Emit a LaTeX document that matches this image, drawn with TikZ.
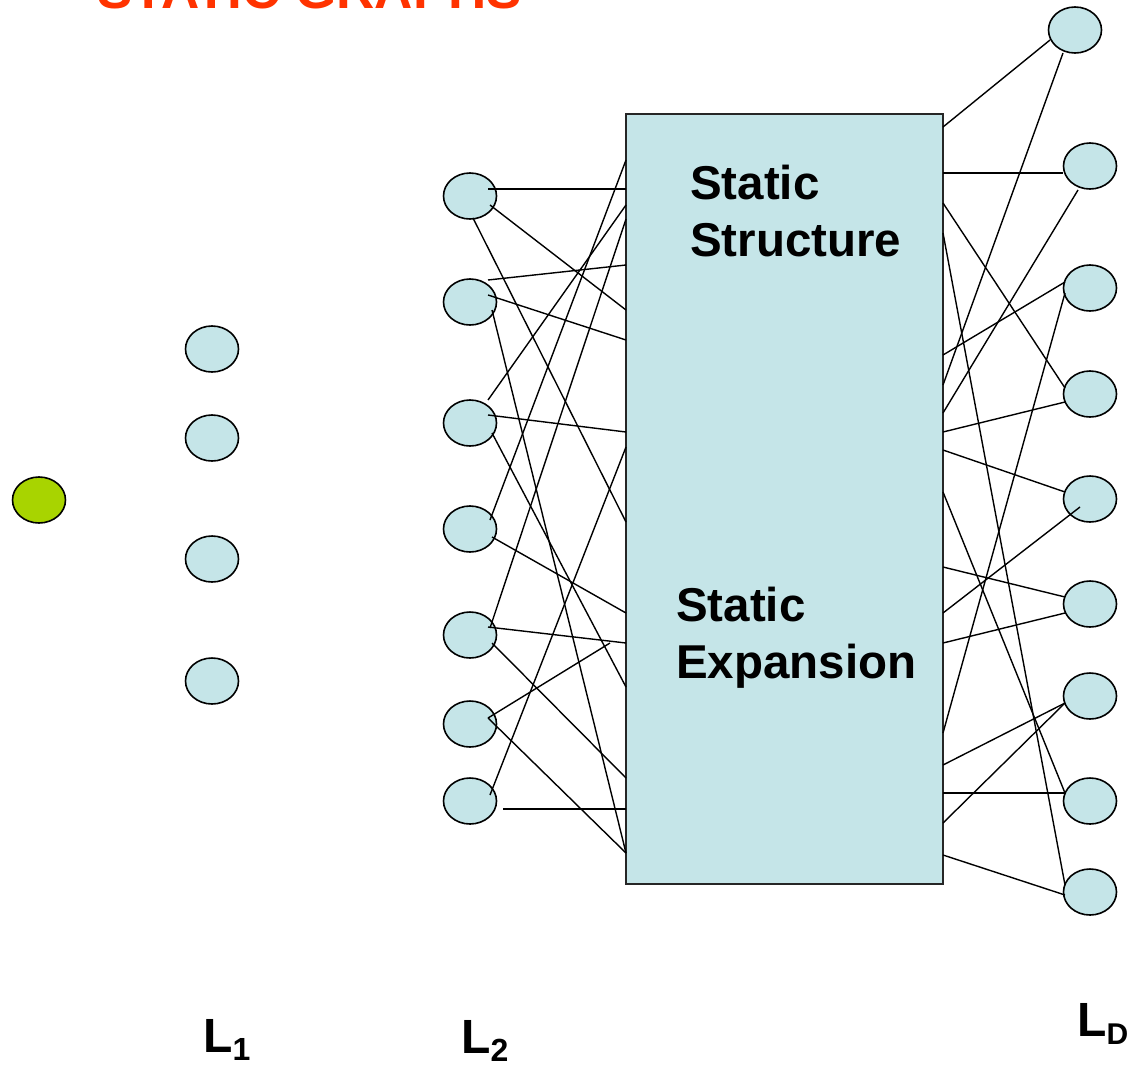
\documentclass[tikz,border=0pt]{standalone}
\usepackage{fontspec}
\setmainfont{Liberation Sans}
\usepackage{tikz}
\usetikzlibrary{
	calc,
	positioning,
	shapes.geometric
}
\definecolor{vertexblue}{HTML}{C5E5E8}
\definecolor{seedgreen}{HTML}{A8D400}
\definecolor{titlered}{HTML}{FF3300}
\tikzset{
	vertex/.style={
		ellipse, draw=black, line width=1.6pt, fill=vertexblue,
		minimum width=53pt, minimum height=46pt, inner sep=0pt
	},
	seed/.style={
		vertex, fill=seedgreen
	},
	block/.style={
		draw=black!85, line width=1.8pt, fill=vertexblue,
		minimum width=317pt, minimum height=770pt,
		inner sep=0pt, outer sep=0pt
	},
	every edge/.append style={
		line width=1.4pt
	},
	layer/.style={
		font=\fontsize{48}{50}\selectfont\bfseries,
		inner sep=0pt, anchor=base west
	},
	blocktext/.style={
		font=\fontsize{47.5}{57}\selectfont\bfseries,
		align=left, inner sep=0pt, anchor=north west
	}
}

\begin{document}
\begin{tikzpicture}[x=1pt,y=-1pt]
	\useasboundingbox (0,0) rectangle (1130,1066);
	% title, cut off at the top edge
	\node [anchor=base west, inner sep=0pt, text=titlered,
		font=\fontsize{53}{60}\selectfont\bfseries] (title) at (97,8) {STATIC GRAPHS};
	\draw
		node [seed]   (a0) at (39,500)  {}
		node [vertex] (a1) at (212,349) {}
		node [vertex] (a2) at (212,438) {}
		node [vertex] (a3) at (212,559) {}
		node [vertex] (a4) at (212,681) {}

		node [vertex] (b1) at (470,196) {}
		node [vertex] (b2) at (470,302) {}
		node [vertex] (b3) at (470,423) {}
		node [vertex] (b4) at (470,529) {}
		node [vertex] (b5) at (470,635) {}
		node [vertex] (b6) at (470,724) {}
		node [vertex] (b7) at (470,801) {}

		node [block]  (box) at (784.5,499) {}

		node [vertex] (c1) at (1075,30)  {}
		node [vertex] (c2) at (1090,166) {}
		node [vertex] (c3) at (1090,288) {}
		node [vertex] (c4) at (1090,394) {}
		node [vertex] (c5) at (1090,499) {}
		node [vertex] (c6) at (1090,604) {}
		node [vertex] (c7) at (1090,696) {}
		node [vertex] (c8) at (1090,801) {}
		node [vertex] (c9) at (1090,892) {}

		% second layer into the block
		($(b1)+(18,-7)$)  edge ($(box.north west)+(0,75)$)
		($(b1)+(20,9)$)   edge ($(box.north west)+(0,196)$)
		($(b1)+(3,22)$)   edge ($(box.north west)+(0,408)$)
		($(b2)+(18,-22)$) edge ($(box.north west)+(0,151)$)
		($(b2)+(18,-7)$)  edge ($(box.north west)+(0,226)$)
		($(b2)+(22,8)$)   edge ($(box.north west)+(0,739)$)
		($(b3)+(18,-23)$) edge ($(box.north west)+(0,91)$)
		($(b3)+(18,-8)$)  edge ($(box.north west)+(0,318)$)
		($(b3)+(22,10)$)  edge ($(box.north west)+(0,573)$)
		($(b4)+(20,-9)$)  edge ($(box.north west)+(0,46)$)
		($(b4)+(22,8)$)   edge ($(box.north west)+(0,499)$)
		($(b5)+(20,-7)$)  edge ($(box.north west)+(0,105)$)
		($(b5)+(18,-8)$)  edge ($(box.north west)+(0,529)$)
		($(b5)+(22,8)$)   edge ($(box.north west)+(0,664)$)
		($(b6)+(18,-6)$)  edge ($(box.north west)+(-16,529)$)
		($(b6)+(18,-6)$)  edge ($(box.north west)+(0,739)$)
		($(b7)+(20,-6)$)  edge ($(box.north west)+(0,333)$)
		($(b7)+(33,8)$)   edge ($(box.north west)+(0,695)$)

		% block out to the last layer
		($(box.north east)+(0,13)$)  edge ($(c1)+(-25,10)$)
		($(box.north east)+(0,59)$)  edge ($(c2)+(-27,7)$)
		($(box.north east)+(0,89)$)  edge ($(c4)+(-25,-6)$)
		($(box.north east)+(0,119)$) edge ($(c9)+(-25,-7)$)
		($(box.north east)+(0,241)$) edge ($(c3)+(-25,-6)$)
		($(box.north east)+(0,271)$) edge ($(c1)+(-12,23)$)
		($(box.north east)+(0,299)$) edge ($(c2)+(-12,24)$)
		($(box.north east)+(0,318)$) edge ($(c4)+(-25,8)$)
		($(box.north east)+(0,336)$) edge ($(c5)+(-25,-7)$)
		($(box.north east)+(0,378)$) edge ($(c8)+(-25,-8)$)
		($(box.north east)+(0,453)$) edge ($(c6)+(-25,-7)$)
		($(box.north east)+(0,499)$) edge ($(c5)+(-10,8)$)
		($(box.north east)+(0,529)$) edge ($(c6)+(-25,9)$)
		($(box.north east)+(0,619)$) edge ($(c3)+(-25,5)$)
		($(box.north east)+(0,651)$) edge ($(c7)+(-25,7)$)
		($(box.north east)+(0,679)$) edge ($(c8)+(-25,-8)$)
		($(box.north east)+(0,709)$) edge ($(c7)+(-25,7)$)
		($(box.north east)+(0,741)$) edge ($(c9)+(-25,3)$)
	;
	\node [blocktext] (structure) at (690,165) {Static\\Structure};
	\node [blocktext] (expansion) at (676,587) {Static\\Expansion};
	% layer names
	\node [layer] (l1) at (203,1052) {L\raisebox{-8pt}{\fontsize{32}{32}\selectfont 1}};
	\node [layer] (l2) at (461,1053) {L\raisebox{-8pt}{\fontsize{32}{32}\selectfont 2}};
	\node [layer] (ld) at (1077,1036) {L\raisebox{-8pt}{\fontsize{30}{30}\selectfont D}};
\end{tikzpicture}
\end{document}
